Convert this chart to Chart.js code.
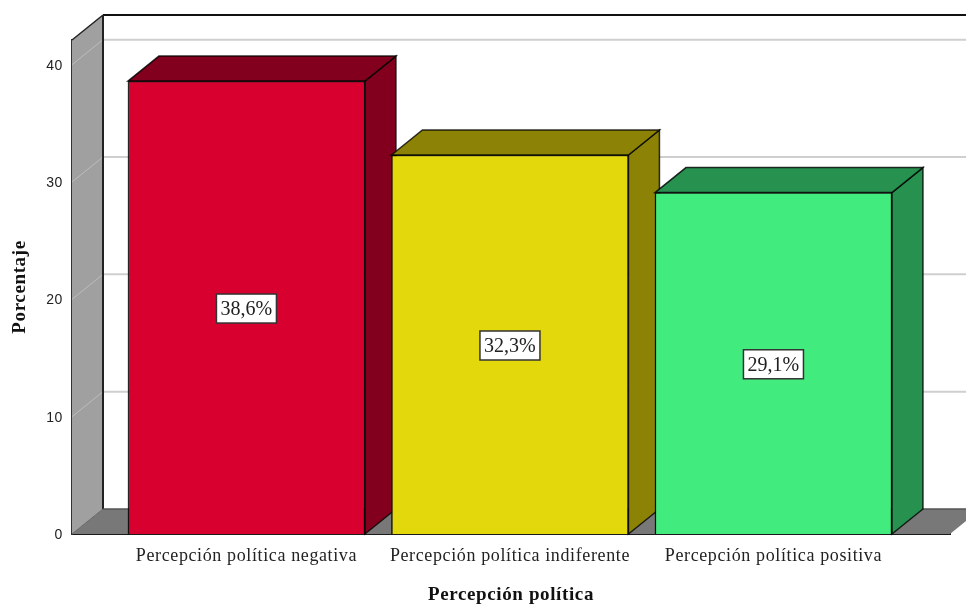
<!DOCTYPE html>
<html>
<head>
<meta charset="utf-8">
<style>
  html, body { margin: 0; padding: 0; background: #fff; }
  canvas { display: block; }
</style>
<script src="https://cdn.jsdelivr.net/npm/chart.js@4"></script>
</head>
<body>
<canvas id="chart" width="966" height="606"></canvas>
<script>
const categories = ['Percepción política negativa', 'Percepción política indiferente', 'Percepción política positiva'];
const values     = [38.6, 32.3, 29.1];
const yTicks     = [0, 10, 20, 30, 40];
const frontCols  = ['#D8002E', '#E3D80C', '#41EB7E'];
const sideCols   = ['#82001E', '#8C8306', '#27914F'];

const DX = 31, DY = -25;   // depth of the fake 3D box

function poly(ctx, pts, fill, stroke, lw) {
  ctx.beginPath();
  pts.forEach((p, i) => i ? ctx.lineTo(p[0], p[1]) : ctx.moveTo(p[0], p[1]));
  ctx.closePath();
  if (fill) { ctx.fillStyle = fill; ctx.fill(); }
  if (stroke) { ctx.strokeStyle = stroke; ctx.lineWidth = lw || 1; ctx.stroke(); }
}

function seg(ctx, x1, y1, x2, y2, color, lw) {
  ctx.beginPath();
  ctx.moveTo(x1, y1);
  ctx.lineTo(x2, y2);
  ctx.strokeStyle = color;
  ctx.lineWidth = lw;
  ctx.stroke();
}

const box3d = {
  id: 'box3d',
  beforeDraw(chart) {
    chart.ctx.letterSpacing = '0.62px';   // reference text is set wide
  },
  beforeDatasetsDraw(chart) {
    const { ctx, chartArea: a, scales: { y } } = chart;
    ctx.save();
    // left wall and floor
    poly(ctx, [[a.left, a.top], [a.left + DX, a.top + DY], [a.left + DX, a.bottom + DY], [a.left, a.bottom]], '#A0A0A0');
    poly(ctx, [[a.left, a.bottom], [a.left + DX, a.bottom + DY], [a.right + DX, a.bottom + DY], [a.right, a.bottom]], '#787878');
    // grid on the wall and the back
    yTicks.slice(1).forEach(t => {
      const py = y.getPixelForValue(t);
      seg(ctx, a.left, py, a.left + DX, py + DY, '#BDBDBD', 1);
      seg(ctx, a.left + DX, py + DY, a.right + DX, py + DY, '#CFCFCF', 2);
    });
    // box edges
    seg(ctx, a.left + DX, a.top + DY, a.right + DX, a.top + DY, '#111', 2);
    seg(ctx, a.left + DX, a.top + DY, a.left + DX, a.bottom + DY, '#222', 2);
    seg(ctx, a.left, a.top, a.left + DX, a.top + DY, '#222', 1.5);
    seg(ctx, a.left, a.bottom, a.left + DX, a.bottom + DY, '#666', 1);
    seg(ctx, a.left + DX, a.bottom + DY, a.right + DX, a.bottom + DY, '#555', 1.5);
    // side and top of each bar
    chart.getDatasetMeta(0).data.forEach((bar, i) => {
      const l = bar.x - bar.width / 2, r = bar.x + bar.width / 2, t = bar.y, b = bar.base;
      const edge = 'rgba(0,0,0,0.8)';
      poly(ctx, [[r, t], [r + DX, t + DY], [r + DX, b + DY], [r, b]], sideCols[i], edge, 1.5);
      poly(ctx, [[l, t], [l + DX, t + DY], [r + DX, t + DY], [r, t]], sideCols[i], edge, 1.5);
    });
    ctx.restore();
  },
  afterDatasetsDraw(chart) {
    const { ctx } = chart;
    ctx.save();
    ctx.letterSpacing = '0px';
    chart.getDatasetMeta(0).data.forEach((bar, i) => {
      const txt = values[i].toFixed(1).replace('.', ',') + '%';
      const cy = (bar.y + bar.base) / 2 + 1;
      const w = 60, h = 29;
      ctx.fillStyle = '#fff';
      ctx.fillRect(bar.x - w / 2, cy - h / 2, w, h);
      ctx.strokeStyle = '#333';
      ctx.lineWidth = 1.5;
      ctx.strokeRect(bar.x - w / 2, cy - h / 2, w, h);
      ctx.fillStyle = '#222';
      ctx.font = '20px "Liberation Serif"';
      ctx.textAlign = 'center';
      ctx.textBaseline = 'middle';
      ctx.fillText(txt, bar.x, cy + 1);
    });
    ctx.restore();
  }
};

new Chart(document.getElementById('chart'), {
  type: 'bar',
  data: {
    datasets: [{
      data: values.map((v, i) => ({ x: i, y: v })),
      backgroundColor: frontCols,
      borderColor: 'rgba(0,0,0,0.85)',
      borderWidth: 1.5,
      barThickness: 237
    }]
  },
  options: {
    responsive: false,
    animation: false,
    layout: { padding: { top: 40, right: 16, left: 0, bottom: 0 } },
    plugins: { legend: { display: false }, tooltip: { enabled: false } },
    scales: {
      x: {
        type: 'linear',
        offset: false,
        min: -0.662,
        max: 2.67,
        afterFit: s => { s.height = 72; },
        afterBuildTicks: s => { s.ticks = categories.map((c, i) => ({ value: i })); },
        grid: { display: false },
        border: { display: true, color: '#1a1a1a', width: 2 },
        ticks: {
          autoSkip: false,
          maxRotation: 0,
          padding: 3,
          color: '#222',
          font: { family: '"Liberation Serif"', size: 18 },
          callback: v => categories[v]
        },
        title: {
          display: true,
          text: 'Percepción política',
          color: '#111',
          font: { family: '"Liberation Serif"', size: 19, weight: 'bold' },
          padding: { top: 0, bottom: 0 }
        }
      },
      y: {
        min: 0,
        max: 42.1,
        afterFit: s => { s.width = 72; },
        grid: { display: false },
        border: { display: true, color: '#333', width: 2 },
        ticks: {
          stepSize: 10,
          includeBounds: false,
          padding: 1,
          labelOffset: 1,
          color: '#222',
          font: { family: '"Liberation Sans"', size: 14 }
        },
        title: {
          display: true,
          text: 'Porcentaje',
          color: '#111',
          font: { family: '"Liberation Serif"', size: 19, weight: 'bold' },
          padding: { top: 9, bottom: 0 }
        }
      }
    }
  },
  plugins: [box3d]
});
</script>
</body>
</html>
